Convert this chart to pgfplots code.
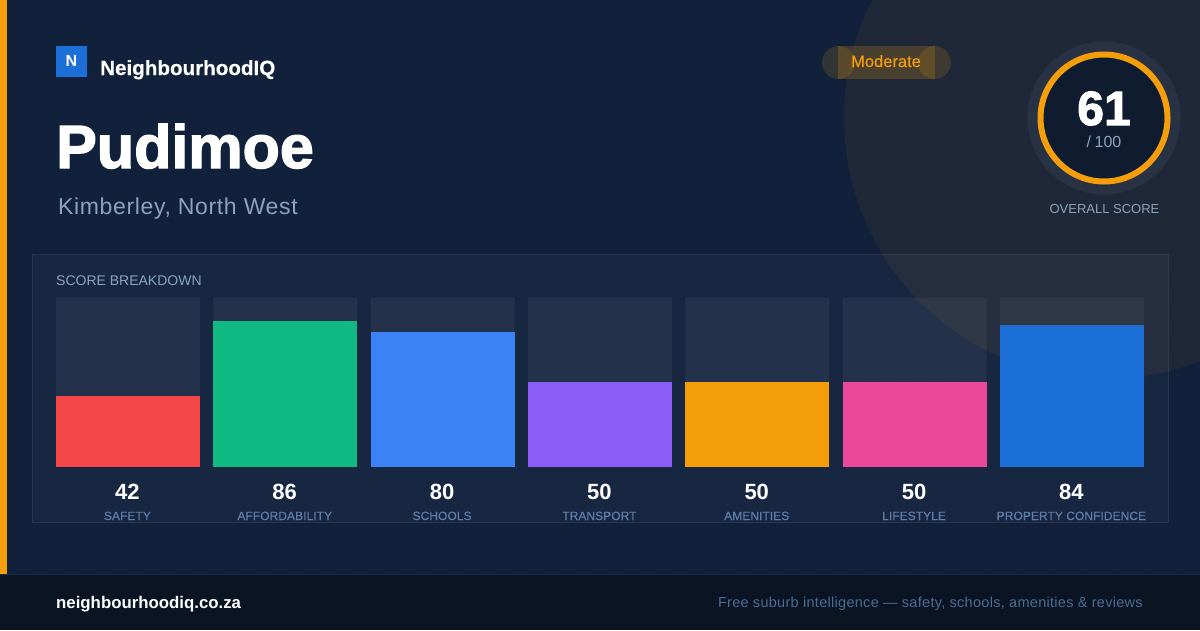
\documentclass[border=0pt]{standalone}
\usepackage{pgfplots}
\pgfplotsset{compat=1.18}
\usepackage{fontspec}
\setmainfont{Liberation Sans}
\newfontfamily\fbrand[FakeBold=0.3]{Liberation Sans Bold}
\newfontfamily\ftitle[FakeBold=2.2]{Liberation Sans Bold}
\newfontfamily\fsub[LetterSpace=2.8]{Liberation Sans}
\newfontfamily\fmod[FakeBold=0.25]{Liberation Sans}
\newfontfamily\flab[LetterSpace=0.4,FakeBold=0.15]{Liberation Sans}
\newfontfamily\ffoot[LetterSpace=2]{Liberation Sans}
\newfontfamily\fbold{Liberation Sans Bold}
\definecolor{bg}{HTML}{11213B}
\definecolor{amber}{HTML}{F59E0B}
\definecolor{footbg}{HTML}{0A1423}
\definecolor{innerc}{HTML}{0F1B2E}
\definecolor{muted}{HTML}{8AA3C0}
\definecolor{labc}{HTML}{5F80A8}
\definecolor{footc}{HTML}{4A6C95}
\definecolor{cSafety}{HTML}{F44747}
\definecolor{cAfford}{HTML}{10B981}
\definecolor{cSchools}{HTML}{3B82F6}
\definecolor{cTransport}{HTML}{8B5CF6}
\definecolor{cAmen}{HTML}{F59E0B}
\definecolor{cLife}{HTML}{EC4899}
\definecolor{cProp}{HTML}{1D6FD8}
\pgfplotsset{
  scorebar/.style={
    ybar, bar shift=0pt, bar width=144pt, draw=none, fill=#1,
    visualization depends on={rawy \as \ry},
    nodes near coords={\pgfmathprintnumber[assume math mode=true,int detect]{\pgfplotspointmeta}},
    every node near coord/.append style={font=\fontsize{22}{22}\fbold, text=white, anchor=base, inner sep=0pt,
      xshift=-0.6pt, yshift={-1.69pt*\ry-32.3pt}},
  }
}
\begin{document}
\begin{tikzpicture}
\useasboundingbox (0pt,-630pt) rectangle (1200pt,0pt);
\clip (0pt,-630pt) rectangle (1200pt,0pt);
\begin{scope}[x=1pt,y=-1pt]
\fill[bg] (0,0) rectangle (1200,630);
\foreach \i in {0,...,36}{\foreach \j in {0,...,17}{
  \fill[white,opacity=0.03] ({24+32*\i},{24+32*\j}) circle (1pt);
}}
\fill[amber,opacity=0.06] (1105,118) circle (261pt);
% panel
\fill[white,opacity=0.03] (32,254) rectangle (1168.5,522.5);
\draw[white,opacity=0.07,line width=1pt] (32.5,254.5) rectangle (1168.5,522.5);
% accent and footer
\fill[amber] (0,0) rectangle (7,574);
\fill[footbg] (0,574.5) rectangle (1200,630);
\draw[white,opacity=0.05,line width=1pt] (0,574.5) -- (1200,574.5);
% brand
\fill[cProp] (56,46) rectangle (87,77);
\node[anchor=base,inner sep=0,text=white,font=\fontsize{16}{16}\fbold] at (71.5,66) {N};
\node[anchor=base west,inner sep=0,text=white,font=\fontsize{20.6}{20.6}\fbrand] at (100,75) {NeighbourhoodIQ};
\node[anchor=base west,inner sep=0,text=white,font=\fontsize{61}{61}\ftitle] at (56,168) {Pudimoe};
\node[anchor=base west,inner sep=0,text=muted,font=\fontsize{23}{23}\fsub] at (58,214) {Kimberley, North West};
% pill
\fill[amber,opacity=0.15] (838.5,62.5) circle (16.5pt);
\fill[amber,opacity=0.15] (934.5,62.5) circle (16.5pt);
\fill[amber,opacity=0.2] (838,46) rectangle (935,79);
\node[anchor=base,inner sep=0,text=amber,font=\fontsize{16.5}{16.5}\fmod] at (886,67) {Moderate};
% gauge
\fill[white,opacity=0.05] (1104,118) circle (76.5pt);
\fill[innerc] (1104,118) circle (63.5pt);
\draw[amber,line width=6pt] (1104,118) circle (63.5pt);
\node[anchor=base,inner sep=0,text=white,font=\fontsize{48}{48}\ftitle] at (1104,125) {61};
\node[anchor=base,inner sep=0,text=muted,font=\fontsize{16}{16}\selectfont] at (1104,147) {/\kern-1pt\ 100};
\node[anchor=base,inner sep=0,text=muted,font=\fontsize{13}{13}\selectfont] at (1104.5,213) {OVERALL SCORE};
\node[anchor=base west,inner sep=0,text=muted,font=\fontsize{14}{14}\selectfont] at (56,285) {SCORE BREAKDOWN};
% footer text
\node[anchor=base west,inner sep=0,text=white,font=\fontsize{16.8}{16.8}\fbold] at (56,608) {neighbourhoodiq.co.za};
\node[anchor=base east,inner sep=0,text=footc,font=\fontsize{14.5}{14.5}\ffoot] at (1143,607) {Free suburb intelligence — safety, schools, amenities \& reviews};
\end{scope}
\begin{axis}[
  at={(56pt,-466.7pt)}, anchor=south west,
  scale only axis, width=1088pt, height=169pt,
  xmin=-0.4576, xmax=6.4576, ymin=0, ymax=100,
  clip=false,
  axis line style={draw=none},
  major tick length=0pt,
  ytick=\empty,
  xtick={0,1,2,3,4,5,6},
  xticklabels={SAFETY,AFFORDABILITY,SCHOOLS,TRANSPORT,AMENITIES,LIFESTYLE,PROPERTY CONFIDENCE},
  xticklabel style={anchor=base, inner sep=0pt, xshift=-0.6pt, yshift=-53.3pt, text=labc, font=\fontsize{12}{12}\flab},
  ybar,
]
\addplot[ybar, bar shift=0pt, bar width=144pt, draw=none, fill=white, fill opacity=0.05]
  coordinates {(0,100) (1,100) (2,100) (3,100) (4,100) (5,100) (6,100)};
\addplot[scorebar=cSafety] coordinates {(0,42)};
\addplot[scorebar=cAfford] coordinates {(1,86)};
\addplot[scorebar=cSchools] coordinates {(2,80)};
\addplot[scorebar=cTransport] coordinates {(3,50)};
\addplot[scorebar=cAmen] coordinates {(4,50)};
\addplot[scorebar=cLife] coordinates {(5,50)};
\addplot[scorebar=cProp] coordinates {(6,84)};
\end{axis}
\end{tikzpicture}
\end{document}
